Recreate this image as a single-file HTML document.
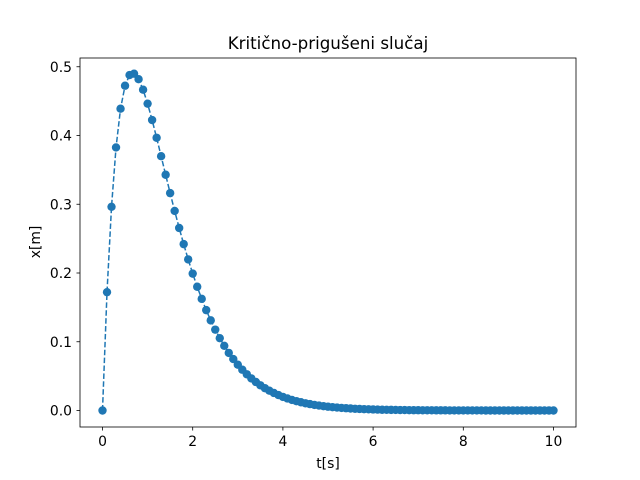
<!DOCTYPE html>
<html><head><meta charset="utf-8"><style>
body{margin:0;background:#fff;}
svg{display:block;font-family:"DejaVu Sans","Liberation Sans",sans-serif;}
</style></head><body>
<svg id="chart" width="640" height="480">
<rect width="640" height="480" fill="#fff"/>
<g id="plot"></g>
<rect x="80" y="58" width="496" height="369" fill="none" stroke="#000" stroke-width="0.8"/>
<g id="ticks" font-size="13.9" fill="#000"></g>
<text x="328" y="49" text-anchor="middle" font-size="16.7">Kritično-prigušeni slučaj</text>
<text x="328" y="468" text-anchor="middle" font-size="13.9">t[s]</text>
<text transform="translate(40,242) rotate(-90)" text-anchor="middle" font-size="13.9">x[m]</text>
</svg>
<script>
const xTicks=[0,2,4,6,8,10];
const xTickLabels=["0","2","4","6","8","10"];
const yTicks=[0,0.1,0.2,0.3,0.4,0.5];
const yTickLabels=["0.0","0.1","0.2","0.3","0.4","0.5"];
const tValues=[0,0.1,0.2,0.3,0.4,0.5,0.6,0.7,0.8,0.9,1.0,1.1,1.2,1.3,1.4,1.5,1.6,1.7,1.8,1.9,2.0,2.1,2.2,2.3,2.4,2.5,2.6,2.7,2.8,2.9,3.0,3.1,3.2,3.3,3.4,3.5,3.6,3.7,3.8,3.9,4.0,4.1,4.2,4.3,4.4,4.5,4.6,4.7,4.8,4.9,5.0,5.1,5.2,5.3,5.4,5.5,5.6,5.7,5.8,5.9,6.0,6.1,6.2,6.3,6.4,6.5,6.6,6.7,6.8,6.9,7.0,7.1,7.2,7.3,7.4,7.5,7.6,7.7,7.8,7.9,8.0,8.1,8.2,8.3,8.4,8.5,8.6,8.7,8.8,8.9,9.0,9.1,9.2,9.3,9.4,9.5,9.6,9.7,9.8,9.9,10.0];
const xValues=[0,0.1721,0.2963,0.3826,0.4390,0.4724,0.4879,0.4899,0.4819,0.4666,0.4463,0.4225,0.3967,0.3699,0.3429,0.3162,0.2903,0.2655,0.2420,0.2198,0.1991,0.1800,0.1624,0.1460,0.1311,0.1176,0.1052,0.0941,0.0838,0.0748,0.0666,0.0593,0.0527,0.0467,0.0415,0.0367,0.0325,0.0288,0.0255,0.0225,0.0198,0.0175,0.0154,0.0136,0.0120,0.0105,0.0093,0.0081,0.0072,0.0063,0.0055,0.0048,0.0043,0.0037,0.0033,0.0029,0.0025,0.0022,0.0019,0.0017,0.0015,0.0013,0.0011,0.0010,0.0009,0.0008,0.0007,0.0006,0.0005,0.0004,0.0004,0.0003,0.0003,0.0003,0.0002,0.0002,0.0002,0.0001,0.0001,0.0001,0.0001,0.0001,0.0001,0.0001,0.0001,0,0,0,0,0,0,0,0,0,0,0,0,0,0,0,0];
const NS="http://www.w3.org/2000/svg";
function sx(v){return 102.5+v*45.1;}
function sy(v){return 410.5-v*687.5;}
const plot=document.getElementById('plot');
const ticks=document.getElementById('ticks');
function mk(tag,attrs,parent){const e=document.createElementNS(NS,tag);for(const k in attrs)e.setAttribute(k,attrs[k]);parent.appendChild(e);return e;}
xTicks.forEach((v,i)=>{
  const l=mk('line',{x1:sx(v),x2:sx(v),y1:427,y2:430.5,stroke:'#000','stroke-width':0.8},ticks);
  
  
  const t=mk('text',{x:sx(v),y:446,'text-anchor':'middle'},ticks);t.textContent=xTickLabels[i];
  
  
});
yTicks.forEach((v,i)=>{
  const l=mk('line',{x1:76.5,x2:80,y1:sy(v),y2:sy(v),stroke:'#000','stroke-width':0.8},ticks);
  
  
  const t=mk('text',{x:72,y:sy(v)+5,'text-anchor':'end'},ticks);t.textContent=yTickLabels[i];
  
  
});
const pts=tValues.map((t,i)=>sx(t).toFixed(2)+','+sy(xValues[i]).toFixed(2)).join(' ');
const line=mk('polyline',{points:pts,fill:'none',stroke:'#1f77b4','stroke-width':1.5,'stroke-dasharray':'5.5,2.4'},plot);


tValues.forEach((t,i)=>{
  const c=mk('circle',{cx:sx(t),cy:sy(xValues[i]),r:4.2,fill:'#1f77b4'},plot);
  
  
});
</script>
</body></html>
